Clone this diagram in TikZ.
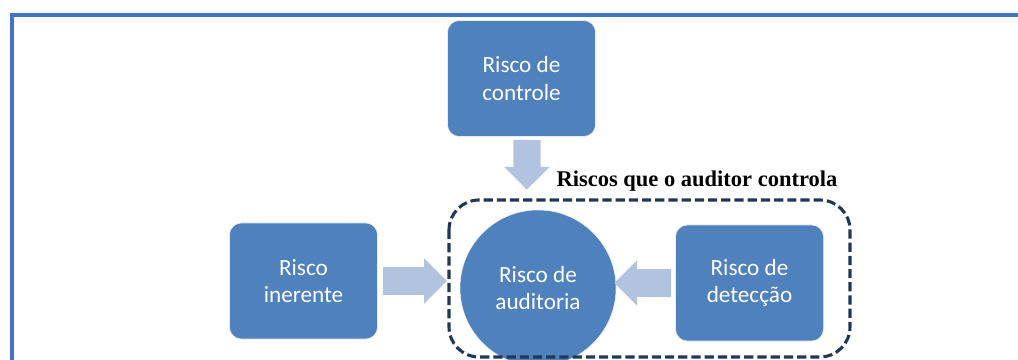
\documentclass[tikz,border=0pt]{standalone}
\usepackage{fontspec}
\setsansfont{Carlito}
\newfontfamily\serifbf{Liberation Serif}
\usetikzlibrary{arrows.meta}
\definecolor{boxblue}{RGB}{79,129,189}
\definecolor{arrowblue}{RGB}{178,195,223}
\definecolor{framenavy}{RGB}{31,56,88}
\definecolor{pageblue}{RGB}{68,114,196}

\begin{document}
\begin{tikzpicture}[x=0.025cm, y=-0.025cm,
    riskbox/.style={fill=boxblue, draw=white!85!boxblue, rounded corners=0.3cm,
      minimum width=3.7cm, minimum height=2.9cm, text=white, align=center,
      font=\sffamily\fontsize{16.5}{19.5}\selectfont},
    fatarrow/.style={draw=arrowblue, line width=0.68cm,
      -{Triangle[length=0.57cm, width=1.1cm]}}]
          \useasboundingbox (0,0) rectangle (1018,360);
          \draw [pageblue, line width=2.6pt] (12,370) -- (12,15) -- (1030,15);
          \node [riskbox] (ctrl) at (521.5,78.5) {Risco de\\controle};
          \node [riskbox] (inh) at (303.5,281) {Risco\\inerente};
          \node [riskbox] (det) at (749.5,283) {Risco de\\detecção};
          \node [riskbox, circle, minimum size=3.9cm] (aud) at (538,288) {Risco de\\auditoria};
          \draw [framenavy, line width=2.2pt, rounded corners=0.75cm,
            dash pattern=on 0.23cm off 0.1cm] (449,200) rectangle (850,357);
          \node [font=\serifbf\bfseries\fontsize{16}{18}\selectfont] (lbl) at (697,181)
            {Riscos que o auditor controla};
          \draw [fatarrow] ([xshift=0.14cm, yshift=-0.08cm]ctrl.south) -- ([xshift=-0.28cm, yshift=0.5cm]aud.north);
          \draw [fatarrow, shorten <=0.12cm, shorten >=0.32cm] (inh.east) -- (inh.east -| aud.west);
          \draw [fatarrow, shorten <=0.1cm, shorten >=-0.05cm] (det.west) -- (det.west -| aud.east);
        \end{tikzpicture}
\end{document}
